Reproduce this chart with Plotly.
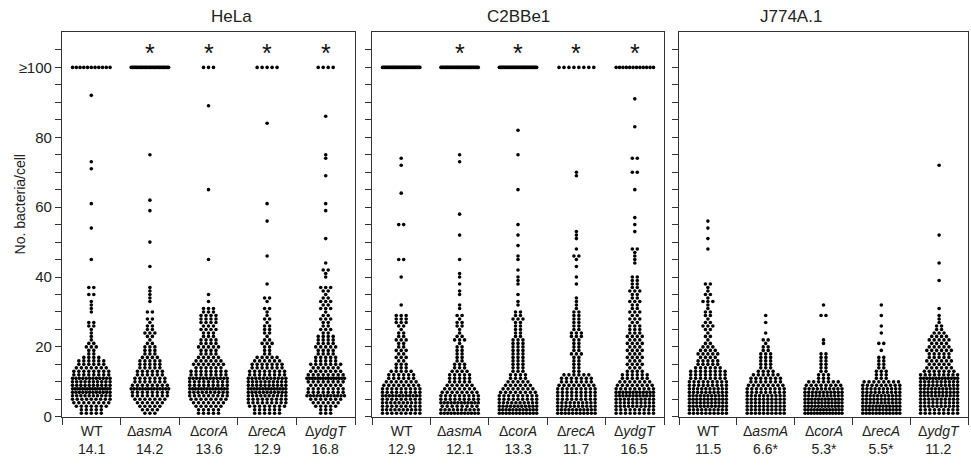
import plotly.graph_objects as go
from collections import Counter

# ---------------- data ----------------
PANELS = ["HeLa", "C2BBe1", "J774A.1"]
CAT_LABELS = ["WT", "Δ<i>asmA</i>", "Δ<i>corA</i>", "Δ<i>recA</i>", "Δ<i>ydgT</i>"]

HELA_MEANS = ["14.1", "14.2", "13.6", "12.9", "16.8"]
C2BBE1_MEANS = ["12.9", "12.1", "13.3", "11.7", "16.5"]
J774_MEANS = ["11.5", "6.6*", "5.3*", "5.5*", "11.2"]

HELA_SIG = [False, True, True, True, True]
C2BBE1_SIG = [False, True, True, True, True]
J774_SIG = [False, False, False, False, False]

# counts per value, starting at value 1; *_HIGH = isolated values; *_CAP = cells with >=100 bacteria
HELA_WT_COUNTS = [5, 5, 7, 8, 9, 10, 12, 16, 10, 10, 12, 8, 8, 7, 6, 6, 4, 2, 2, 3, 2, 1, 1, 1, 1, 2, 2]
HELA_WT_HIGH = [30, 31, 32, 33, 35, 35, 37, 37, 45, 54, 61, 71, 73, 92]
HELA_WT_CAP = 11

HELA_ASMA_COUNTS = [3, 4, 5, 6, 7, 8, 8, 14, 8, 7, 7, 6, 6, 5, 5, 5, 4, 3, 3, 3, 2, 1, 2, 3, 2, 2, 1, 2, 0, 2]
HELA_ASMA_HIGH = [33, 34, 35, 36, 37, 43, 50, 59, 62, 75]
HELA_ASMA_CAP = 30

HELA_CORA_COUNTS = [5, 5, 6, 7, 8, 9, 10, 14, 9, 9, 12, 8, 8, 6, 7, 6, 5, 4, 4, 5, 4, 4, 3, 3, 4, 3, 4, 4, 4, 3, 3]
HELA_CORA_HIGH = [33, 35, 45, 65, 89]
HELA_CORA_CAP = 3

HELA_RECA_COUNTS = [6, 6, 8, 9, 9, 10, 11, 14, 10, 10, 11, 8, 8, 7, 7, 6, 5, 2, 2, 2, 3, 2, 1, 2, 2, 2, 1, 2, 1, 1, 2, 0, 1, 2]
HELA_RECA_HIGH = [38, 46, 56, 61, 84]
HELA_RECA_CAP = 5

HELA_YDGT_COUNTS = [3, 3, 5, 6, 7, 12, 8, 8, 7, 8, 15, 8, 7, 6, 7, 5, 5, 4, 4, 5, 4, 4, 4, 2, 3, 2, 2, 3, 2, 1, 3, 2, 3, 2, 1, 2, 3]
HELA_YDGT_HIGH = [40, 41, 42, 42, 44, 51, 59, 61, 69, 74, 75, 86]
HELA_YDGT_CAP = 4

C2_WT_COUNTS = [9, 10, 9, 10, 9, 12, 9, 9, 8, 7, 6, 6, 5, 3, 3, 2, 3, 2, 3, 2, 2, 3, 2, 2, 1, 2, 3, 3, 3]
C2_WT_HIGH = [32, 40, 45, 45, 55, 55, 64, 72, 74]
C2_WT_CAP = 35

C2_ASMA_COUNTS = [12, 10, 8, 12, 9, 9, 8, 7, 6, 5, 5, 5, 4, 3, 3, 2, 2, 2, 2, 2, 1, 3, 2, 1, 1, 2, 2, 1, 2]
C2_ASMA_HIGH = [31, 32, 35, 36, 38, 40, 41, 45, 52, 58, 73, 75]
C2_ASMA_CAP = 35

C2_CORA_COUNTS = [12, 12, 11, 10, 9, 9, 8, 7, 6, 5, 4, 4, 3, 3, 3, 3, 3, 3, 3, 3, 3, 3, 2, 2, 2, 2, 2, 3, 2, 2]
C2_CORA_HIGH = [32, 33, 35, 38, 39, 40, 42, 45, 46, 49, 52, 55, 65, 75, 82]
C2_CORA_CAP = 35

C2_RECA_COUNTS = [11, 11, 10, 10, 9, 9, 9, 9, 8, 7, 7, 6, 2, 2, 2, 2, 2, 3, 2, 2, 2, 2, 3, 3, 2, 2, 2, 2, 2, 2, 1, 1, 1, 1]
C2_RECA_HIGH = [38, 40, 43, 45, 46, 46, 48, 51, 52, 53, 69, 70]
C2_RECA_CAP = 8

C2_YDGT_COUNTS = [9, 9, 10, 10, 10, 12, 12, 9, 8, 7, 6, 6, 4, 3, 4, 3, 4, 3, 4, 3, 4, 3, 4, 3, 3, 3,
                  2, 3, 2, 3, 2, 2, 3, 2, 2, 3, 2, 2, 2, 2]
C2_YDGT_HIGH = [44, 45, 46, 47, 48, 48, 53, 55, 57, 65, 70, 70, 74, 74, 83, 91]
C2_YDGT_CAP = 12

J7_WT_COUNTS = [10, 10, 11, 11, 11, 11, 10, 10, 9, 9, 8, 8, 8, 6, 5, 5, 4, 5, 4, 3, 2, 1, 2, 1, 2, 3, 2, 1, 2, 2, 1, 1, 3]
J7_WT_HIGH = [34, 35, 35, 36, 37, 38, 38, 48, 51, 54, 56]
J7_WT_CAP = 0

J7_ASMA_COUNTS = [10, 10, 10, 10, 10, 10, 9, 9, 8, 7, 7, 6, 4, 3, 3, 3, 3, 3, 2, 2, 1, 2]
J7_ASMA_HIGH = [24, 27, 29]
J7_ASMA_CAP = 0

J7_CORA_COUNTS = [13, 13, 12, 12, 12, 11, 11, 10, 8, 7, 3, 3, 2, 2, 2, 2, 2, 2]
J7_CORA_HIGH = [21, 22, 29, 29, 32]
J7_CORA_CAP = 0

J7_RECA_COUNTS = [12, 12, 12, 11, 11, 11, 10, 10, 9, 8, 3, 3, 3, 2, 2, 2, 2]
J7_RECA_HIGH = [19, 21, 21, 24, 26, 29, 32]
J7_RECA_CAP = 0

J7_YDGT_COUNTS = [9, 9, 10, 10, 10, 11, 11, 11, 10, 10, 13, 9, 7, 6, 5, 6, 5, 5, 6, 5, 4, 5, 4, 3, 2, 2]
J7_YDGT_HIGH = [27, 28, 29, 31, 39, 44, 52, 72]
J7_YDGT_CAP = 0

Y_TICK_VALUES = [0, 20, 40, 60, 80, 100]
Y_TICK_LABELS = ["0", "20", "40", "60", "80", "≥100"]

PANEL_DATA = [
    [(HELA_WT_COUNTS, HELA_WT_HIGH, HELA_WT_CAP), (HELA_ASMA_COUNTS, HELA_ASMA_HIGH, HELA_ASMA_CAP),
     (HELA_CORA_COUNTS, HELA_CORA_HIGH, HELA_CORA_CAP), (HELA_RECA_COUNTS, HELA_RECA_HIGH, HELA_RECA_CAP),
     (HELA_YDGT_COUNTS, HELA_YDGT_HIGH, HELA_YDGT_CAP)],
    [(C2_WT_COUNTS, C2_WT_HIGH, C2_WT_CAP), (C2_ASMA_COUNTS, C2_ASMA_HIGH, C2_ASMA_CAP),
     (C2_CORA_COUNTS, C2_CORA_HIGH, C2_CORA_CAP), (C2_RECA_COUNTS, C2_RECA_HIGH, C2_RECA_CAP),
     (C2_YDGT_COUNTS, C2_YDGT_HIGH, C2_YDGT_CAP)],
    [(J7_WT_COUNTS, J7_WT_HIGH, J7_WT_CAP), (J7_ASMA_COUNTS, J7_ASMA_HIGH, J7_ASMA_CAP),
     (J7_CORA_COUNTS, J7_CORA_HIGH, J7_CORA_CAP), (J7_RECA_COUNTS, J7_RECA_HIGH, J7_RECA_CAP),
     (J7_YDGT_COUNTS, J7_YDGT_HIGH, J7_YDGT_CAP)],
]
PANEL_MEANS = [HELA_MEANS, C2BBE1_MEANS, J774_MEANS]
PANEL_SIG = [HELA_SIG, C2BBE1_SIG, J774_SIG]

# ---------------- layout helpers ----------------
W, H = 971, 470
FONT = "Liberation Sans, Arial, Helvetica, sans-serif"
PX_X = [(62, 355), (372, 664), (679, 968)]
PLOT_TOP, PLOT_BOTTOM = 33, 424
STEP = 0.085
MAXW = 0.64


def py(px):
    return (H - px) / H


def expand(counts, high, cap):
    vals = []
    for v, c in enumerate(counts, start=1):
        vals += [v] * c
    vals += list(high)
    vals += [100] * cap
    return vals


def swarm(center, values):
    xs, ys = [], []
    for v, n in sorted(Counter(values).items()):
        s = STEP if (n - 1) * STEP <= MAXW else MAXW / (n - 1)
        for i in range(n):
            xs.append(center + (i - (n - 1) / 2) * s)
            ys.append(v)
    return xs, ys


fig = go.Figure()
annotations = []
ydom = [py(PLOT_BOTTOM), py(PLOT_TOP)]

for p, name in enumerate(PANELS):
    xa = "x" if p == 0 else f"x{p+1}"
    ya = "y" if p == 0 else f"y{p+1}"
    for c, (counts, high, cap) in enumerate(PANEL_DATA[p]):
        xs, ys = swarm(c, expand(counts, high, cap))
        fig.add_trace(go.Scatter(x=xs, y=ys, mode="markers", xaxis=xa, yaxis=ya,
                                 marker=dict(size=3.6, color="black", line=dict(width=0)),
                                 showlegend=False, hoverinfo="skip"))
        annotations.append(dict(x=c, xref=xa, y=py(428), yref="paper", yanchor="top",
                                text=f"{CAT_LABELS[c]}<br>{PANEL_MEANS[p][c]}", showarrow=False,
                                font=dict(family=FONT, size=14, color="#222")))
        if PANEL_SIG[p][c]:
            annotations.append(dict(x=c, xref=xa, y=104, yref=ya, yanchor="middle",
                                    text="*", showarrow=False,
                                    font=dict(family=FONT, size=25, color="#111")))
    x0, x1 = PX_X[p]
    dom = [x0 / W, x1 / W]
    fig.layout[("xaxis" if p == 0 else f"xaxis{p+1}")] = dict(
        domain=dom, range=[-0.5, 4.5], anchor=ya, showgrid=False, zeroline=False,
        showline=True, mirror=True, linecolor="#333", linewidth=1.2,
        tickvals=[-0.5, 0.5, 1.5, 2.5, 3.5, 4.5], ticks="outside", ticklen=7,
        tickcolor="#333", tickwidth=1.2, showticklabels=False)
    tv = list(range(0, 110, 5))
    tt = [Y_TICK_LABELS[Y_TICK_VALUES.index(v)] if v in Y_TICK_VALUES else "" for v in tv]
    fig.layout[("yaxis" if p == 0 else f"yaxis{p+1}")] = dict(
        domain=ydom, range=[0, 110], anchor=xa, showgrid=False, zeroline=False,
        showline=True, mirror=True, linecolor="#333", linewidth=1.2,
        tickvals=tv, ticktext=tt, ticks="outside", ticklen=6, tickcolor="#333", tickwidth=1.2,
        showticklabels=(p == 0), tickfont=dict(family=FONT, size=15, color="#222"))
    annotations.append(dict(x=(x0 + x1) / 2 / W, xref="paper", y=py(17), yref="paper",
                            yanchor="middle", text=name, showarrow=False,
                            font=dict(family=FONT, size=17, color="#222")))

annotations.append(dict(x=20 / W, xref="paper", y=py(208), yref="paper",
                        text="No. bacteria/cell", textangle=-90, showarrow=False,
                        xanchor="center", yanchor="middle",
                        font=dict(family=FONT, size=14, color="#222")))

fig.update_layout(width=W, height=H, margin=dict(l=0, r=0, t=0, b=0),
                  paper_bgcolor="white", plot_bgcolor="white",
                  annotations=annotations, showlegend=False)

fig.write_html("out.html", config={"displayModeBar": False},
               post_script="document.body.style.margin='0';document.body.style.overflow='hidden';")
